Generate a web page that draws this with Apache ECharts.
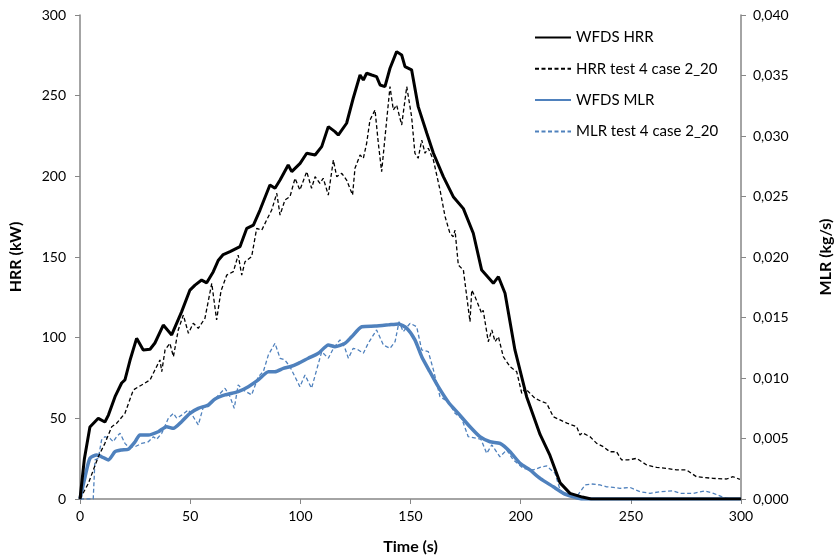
<!DOCTYPE html>
<html>
<head>
<meta charset="utf-8">
<script src="https://cdn.jsdelivr.net/npm/echarts@6/dist/echarts.min.js"></script>
<style>html,body{margin:0;padding:0;background:#fff;}#chart{width:840px;height:559px;}</style>
</head>
<body>
<div id="chart"></div>
<script>
// Time (s) and HRR (kW) — WFDS
const wfdsHrrT = [0,2,4.5,8.3,11.3,12.9,15.9,18.9,20.4,22.7,25.7,28.7,31.8,34,37.8,41.6,46.1,49.9,52.2,55.2,57.5,60.5,62.8,65,68.1,72.6,75.7,78.7,81.7,86.2,88.5,90.8,94.5,96.1,99.9,102.9,106.7,109.7,112.7,115.7,117.2,121,124,127.1,128.6,130.1,132.4,134.6,136.2,138.4,140.7,143.7,146,147.5,150.5,153.5,157.4,160.4,164.9,169.4,174,178.5,182.3,187.6,189.9,192.9,197.4,202.7,208.8,213.3,217.9,222.4,228,232,300];
const wfdsHrrV = [0,25,44.6,50,47.7,52,63.4,71.9,73.8,86,99.6,92.4,92.8,96.7,107.8,101.7,116,129.5,132.6,135.7,134,140.9,148,151.5,153.3,156.4,167.8,169.8,179.1,194.6,192.6,197.7,207,202.9,208,214.3,213.2,218.4,230.8,227.7,225.6,232.9,248.4,262.8,259.7,263.9,262.8,261.8,256.6,255.6,267,277.3,275.2,268,266,243.2,226.7,214.3,199.8,187.4,180,164.7,141.9,133.7,137.8,127.5,92.4,63.4,40,27,10,3.5,1.2,0,0];

// HRR test 4 case 2_20
const testHrrT = [0,3.8,8.3,11.3,14.4,16.6,20.4,24.2,28,31.8,34,36.3,37.1,38.6,40.8,42.4,44.6,46.9,49.2,51.4,53.7,56.7,59.8,62,64,66.6,69.6,71.8,73.4,74.9,77.9,80.2,82.5,84.7,87,89.3,90.8,93,95.3,97.6,99.8,102.9,105.1,106.7,108.9,110.4,112.7,115,116.5,118.8,121,123.7,124.8,127.1,128.6,130.1,131.6,133.9,135.4,136.9,139.2,140.7,142.2,143.7,146,148.3,150.5,152,153.5,155.1,156.6,158.1,160.4,163.4,165.7,167.9,169.4,170.2,171.7,174,177,177.8,179.3,182.3,183,185.3,186.9,188.4,189.9,192.1,195.2,198.2,200.5,202,206.5,208.8,211.8,214.8,217.9,221,225.4,226.9,228,231.5,234.5,237.5,240.5,243.5,245.8,248.8,252.6,257.2,261.7,266.2,270.8,275.3,279.8,287.3,293.4,296.4,299.5];
const testHrrV = [0,9.7,26.2,34.5,44.8,46.9,53.1,67.6,70.7,73.8,80,86.2,78.9,92.4,96.5,88.2,104.8,114,102.7,108.9,105.8,112,133.7,111,129,138.8,140.9,151.2,138.8,147.1,150.2,167.8,166.7,172.9,179.1,189.5,176,185.3,187.4,198.8,191.5,202.9,192.6,199.8,195.7,198.8,188.4,210.1,199.8,201.9,197.7,188.4,205,213.2,211.2,220.5,234.9,241.1,220.5,202.9,234.9,255.6,241.1,244.2,231.8,255.6,237,214.3,211.2,222.5,214.3,217.4,210.1,191.5,175,164.7,162.6,166.7,145,141.9,109.9,129.5,125.4,115.1,117,97.5,104.8,97.5,100.6,88.2,82,78.9,65.5,68.6,62.4,60.9,59.3,51,49,47,44.8,39.7,41,38.6,34.5,32.4,29.3,29.3,24.2,24.2,25.2,21.1,19.6,19,18,18,13.8,12.8,12.4,13.8,12.2];

// MLR (kg/s) — WFDS
const wfdsMlrT = [0,2.3,4.5,7.6,9.8,12.9,15.9,18.9,21.9,25,27.2,31,35.5,39.3,42.4,46.1,49.9,53.7,58.2,61.3,65.8,71.8,76.4,80.9,85.5,88.5,92.3,95.3,99.1,103.6,108.2,112.7,115.7,120.3,123.3,127.9,134,140,144.5,148.3,152,155.1,158.8,162.6,167.2,171.7,177,181.5,186.1,190.6,195.2,199.7,204.2,208.8,214.8,219.4,223.9,228,300];
const wfdsMlrV = [0,0.00184,0.00336,0.00364,0.00349,0.00323,0.00391,0.00405,0.00411,0.00473,0.00529,0.00529,0.00556,0.00597,0.00584,0.00639,0.00708,0.00749,0.00777,0.00827,0.0086,0.00887,0.00928,0.00984,0.01052,0.01052,0.0108,0.01093,0.01121,0.01163,0.01204,0.01273,0.01259,0.01287,0.01341,0.01424,0.01429,0.01439,0.01447,0.01411,0.01315,0.01176,0.01052,0.00928,0.008,0.00707,0.00597,0.00515,0.00473,0.0046,0.00391,0.00295,0.0024,0.00171,0.00101,0.00047,0.00019,0,0];

// MLR test 4 case 2_20
const testMlrT = [0,6,6.8,8.3,9.8,11.3,13.6,15.1,16.6,18.2,20.4,21.9,25,28,31,33.3,34.8,37.1,40.1,42.4,43.9,46.1,49.2,51.4,53.7,56,58.2,61.3,65.8,68.1,70,71.8,74.1,77.9,80.9,83.2,85.5,88.5,90.8,93,95.3,99.8,102.1,105.1,107.4,109.7,112.7,115,118,120,121.8,124,126.3,128.6,130.8,134.6,137.7,140.7,143,144.8,146.7,149.8,152.8,155.1,158.1,160.4,163.4,167.2,170.2,173.2,176.2,180,182,184.6,186.9,190.6,193.6,196.7,201.2,205.7,208.8,211.8,215.6,217.9,220.9,225.4,229.2,232.2,236,239,242,245.1,249.6,254.2,258.7,263.2,269.3,272.3,278.4,283.6,287.5,291.2,293.4,295,300];
const testMlrV = [0,0,0.00323,0.00336,0.00488,0.00515,0.00501,0.00473,0.00515,0.00543,0.0046,0.00432,0.00432,0.0046,0.00473,0.00515,0.00493,0.00543,0.00667,0.00708,0.00667,0.00693,0.00736,0.0068,0.00612,0.00763,0.00763,0.00827,0.00915,0.00845,0.00749,0.00943,0.00901,0.0086,0.01011,0.01052,0.01191,0.01287,0.01163,0.01149,0.01093,0.00928,0.01025,0.00915,0.01067,0.01217,0.01163,0.01245,0.01315,0.01259,0.01163,0.01245,0.01232,0.01204,0.01287,0.01397,0.01273,0.01245,0.013,0.01465,0.01383,0.01452,0.01424,0.01232,0.01217,0.01067,0.00845,0.00804,0.00708,0.00667,0.00515,0.00501,0.00493,0.00377,0.00447,0.00349,0.00405,0.00323,0.00253,0.0024,0.00261,0.00273,0.00212,0.00075,0.00033,0.00019,0.00116,0.00124,0.00116,0.00101,0.00096,0.00088,0.00096,0.0006,0.00047,0.0006,0.00067,0.00047,0.00047,0.00067,0.00047,0.00019,0.00007,0,0];

const seriesNames = ['WFDS HRR', 'HRR test 4 case 2_20', 'WFDS MLR', 'MLR test 4 case 2_20'];

function pairs(t, v) { return t.map((x, i) => [x, v[i]]); }

const FONT = 'Lato';
const axisGray = '#868686';
const blue = '#4F81BD';

const chart = echarts.init(document.getElementById('chart'), null, {renderer: 'canvas'});
chart.setOption({
  animation: false,
  backgroundColor: '#fff',
  grid: {left: 80, right: 99, top: 15, bottom: 60, containLabel: false, outerBoundsMode: 'none'},
  legend: {
    orient: 'vertical', left: 529, top: 25,
    itemWidth: 36, itemHeight: 14, itemGap: 16.3,
    itemStyle: {opacity: 0},
    textStyle: {fontFamily: FONT, fontSize: 15, color: '#000'},
    data: seriesNames
  },
  xAxis: {
    type: 'value', min: 0, max: 300, interval: 50,
    name: 'Time (s)', nameLocation: 'middle', nameGap: 40,
    nameTextStyle: {fontFamily: FONT, fontSize: 16, fontWeight: 'bold', color: '#000'},
    axisLine: {show: true, lineStyle: {color: axisGray, width: 1.5}},
    axisTick: {show: true, inside: false, length: 5, lineStyle: {color: axisGray}},
    axisLabel: {fontFamily: FONT, fontSize: 14, color: '#000', margin: 10},
    splitLine: {show: false}
  },
  yAxis: [{
    type: 'value', min: 0, max: 300, interval: 50, position: 'left',
    name: 'HRR (kW)', nameLocation: 'middle', nameGap: 56, nameRotate: 90,
    nameTextStyle: {fontFamily: FONT, fontSize: 16, fontWeight: 'bold', color: '#000'},
    axisLine: {show: true, lineStyle: {color: axisGray, width: 1.5}},
    axisTick: {show: true, inside: false, length: 5, lineStyle: {color: axisGray}},
    axisLabel: {fontFamily: FONT, fontSize: 14, color: '#000', margin: 14},
    splitLine: {show: false}
  }, {
    type: 'value', min: 0, max: 0.04, interval: 0.005, position: 'right',
    name: 'MLR (kg/s)', nameLocation: 'middle', nameGap: 77, nameRotate: 90,
    nameTextStyle: {fontFamily: FONT, fontSize: 16, fontWeight: 'bold', color: '#000'},
    axisLine: {show: true, lineStyle: {color: axisGray, width: 1.5}},
    axisTick: {show: true, inside: false, length: 5, lineStyle: {color: axisGray}},
    axisLabel: {fontFamily: FONT, fontSize: 14, color: '#000', margin: 12,
      formatter: v => v.toFixed(3).replace('.', ',')},
    splitLine: {show: false}
  }],
  series: [
    {name: seriesNames[0], type: 'line', yAxisIndex: 0, data: pairs(wfdsHrrT, wfdsHrrV),
     symbol: 'none', lineStyle: {color: '#000', width: 3}, itemStyle: {color: '#000'}, z: 4},
    {name: seriesNames[1], type: 'line', yAxisIndex: 0, data: pairs(testHrrT, testHrrV),
     symbol: 'none', lineStyle: {color: '#000', width: 1.3, type: [4, 2.5]}, itemStyle: {color: '#000'}, z: 3},
    {name: seriesNames[2], type: 'line', yAxisIndex: 1, data: pairs(wfdsMlrT, wfdsMlrV),
     symbol: 'none', smooth: 0.2, lineStyle: {color: blue, width: 3.5}, itemStyle: {color: blue}, z: 2},
    {name: seriesNames[3], type: 'line', yAxisIndex: 1, data: pairs(testMlrT, testMlrV),
     symbol: 'none', lineStyle: {color: blue, width: 1.3, type: [4, 2.5]}, itemStyle: {color: blue}, z: 1}
  ]
});
</script>
</body>
</html>
